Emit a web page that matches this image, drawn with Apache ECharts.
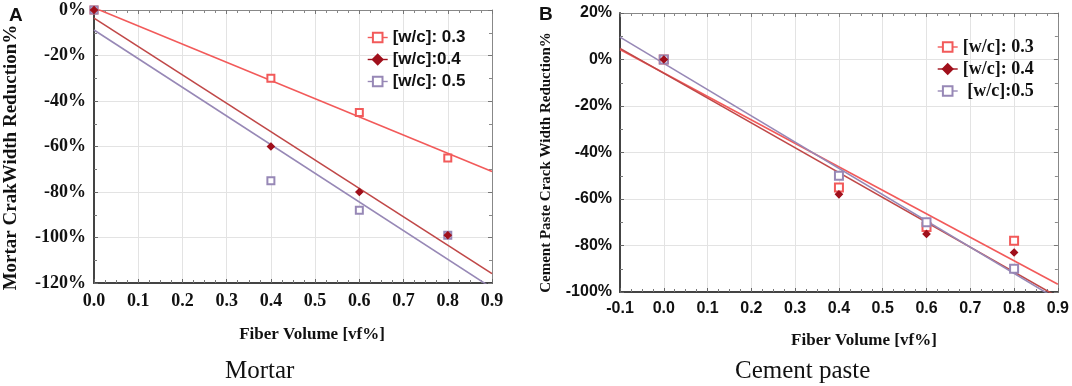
<!DOCTYPE html>
<html>
<head>
<meta charset="utf-8">
<script src="https://cdn.jsdelivr.net/npm/echarts@6/dist/echarts.min.js"></script>
<style>
  html, body { margin: 0; padding: 0; background: #fff; }
  #chart { width: 1072px; height: 386px; }
</style>
</head>
<body>
<div id="chart"></div>
<script>
// fiber volume (vf%) on x, crack width reduction (%) on y
var fiberMortar = [0, 0.4, 0.6, 0.8];
var mortar03 = [0, -30, -45, -65];
var mortar04 = [0, -60, -80, -99];
var mortar05 = [0, -75, -88, -99];
// trend lines, read at the two ends of the x range
var fitXMortar = [0, 0.9];
var mortarFit03 = [1, -71];
var mortarFit04 = [-3.6, -115.9];
var mortarFit05 = [-8.8, -122.2];

var fiberPaste = [0, 0.4, 0.6, 0.8];
var paste03 = [0, -55, -72, -78];
var paste04 = [0, -58, -75, -83];
var paste05 = [0, -50, -70, -90];
var fitXPaste = [-0.1, 0.9];
var pasteFit03 = [4.3, -96.7];
var pasteFit04 = [4.8, -102.1];
var pasteFit05 = [9.6, -103.3];

// axis ranges / tick steps
var xTicksMortar = [0, 0.9, 0.1];
var yTicksMortar = [-120, 0, 20];
var xTicksPaste = [-0.1, 0.9, 0.1];
var yTicksPaste = [-100, 20, 20];

var namesMortar = ['[w/c]: 0.3', '[w/c]:0.4', '[w/c]: 0.5'];
var namesPaste = ['[w/c]: 0.3 ', '[w/c]: 0.4', ' [w/c]:0.5'];

var colors = {
	light: '#f25a5a',
	dark: '#a0101c',
	darkLine: '#c04848',
	purple: '#9788b6'
};

function pairs(xs, ys){
	return xs.map(function(x, i){ return [x, ys[i]]; });
}

var serif = '"Liberation Serif", "Times New Roman", serif';
var sans = '"Liberation Sans", Arial, sans-serif';

function mainX(idx, ticks, font, name, gap, shift){
	return {
		type: 'value', gridIndex: idx, position: 'bottom',
		min: ticks[0], max: ticks[1], interval: ticks[2],
		name: name, nameLocation: 'middle', nameGap: gap,
		nameTextStyle: { fontFamily: serif, fontWeight: 'bold', fontSize: 17, color: '#111', padding: [0, 0, 0, shift] },
		axisLine: { onZero: false, lineStyle: { color: '#444', width: 2 } },
		axisTick: { inside: true, length: 4, lineStyle: { color: '#666' } },
		minorTick: { show: true, splitNumber: 4, length: 3, lineStyle: { color: '#777' } },
		axisLabel: {
			fontFamily: font, fontWeight: 'bold', fontSize: font == serif ? 18 : 16, color: '#111', margin: 9,
			formatter: function(v){ return v.toFixed(1); }
		},
		splitLine: { show: true, lineStyle: { color: '#e3e3e3' } }
	};
}
function mirrorX(idx, ticks){
	return {
		type: 'value', gridIndex: idx, position: 'top',
		min: ticks[0], max: ticks[1], interval: ticks[2],
		axisLine: { onZero: false, lineStyle: { color: '#888', width: 1 } },
		axisTick: { inside: true, length: 4, lineStyle: { color: '#777' } },
		minorTick: { show: true, splitNumber: 4, length: 3, lineStyle: { color: '#888' } },
		axisLabel: { show: false },
		splitLine: { show: false }
	};
}
function mainY(idx, ticks, font, size, name, nameSize, gap, shift){
	return {
		type: 'value', gridIndex: idx, position: 'left',
		min: ticks[0], max: ticks[1], interval: ticks[2],
		name: name, nameLocation: 'middle', nameGap: gap, nameRotate: 90,
		nameTextStyle: { fontFamily: serif, fontWeight: 'bold', fontSize: nameSize, color: '#111', padding: [0, shift, 0, 0] },
		axisLine: { onZero: false, lineStyle: { color: '#444', width: 2 } },
		axisTick: { inside: true, length: 4, lineStyle: { color: '#666' } },
		minorTick: { show: true, splitNumber: 2, length: 3, lineStyle: { color: '#777' } },
		axisLabel: {
			fontFamily: font, fontWeight: 'bold', fontSize: size, color: '#111', margin: 8,
			formatter: function(v){ return v + '%'; }
		},
		splitLine: { show: true, lineStyle: { color: '#e3e3e3' } }
	};
}
function mirrorY(idx, ticks){
	return {
		type: 'value', gridIndex: idx, position: 'right',
		min: ticks[0], max: ticks[1], interval: ticks[2],
		axisLine: { onZero: false, lineStyle: { color: '#888', width: 1 } },
		axisTick: { inside: true, length: 4, lineStyle: { color: '#777' } },
		minorTick: { show: true, splitNumber: 2, length: 3, lineStyle: { color: '#888' } },
		axisLabel: { show: false },
		splitLine: { show: false }
	};
}

// points drawn as line series with a hidden line so the legend shows line + marker
function points(name, axis, data, color, symbol, size, z){
	return {
		name: name, type: 'line', xAxisIndex: axis, yAxisIndex: axis,
		data: data, symbol: symbol, symbolSize: size, showSymbol: true,
		lineStyle: { opacity: 0, color: color },
		itemStyle: { color: color, borderColor: color, borderWidth: 1.2 },
		z: z, animation: false
	};
}
function fit(axis, data, color){
	return {
		type: 'line', xAxisIndex: axis, yAxisIndex: axis,
		data: data, showSymbol: false, symbol: 'none', clip: true,
		lineStyle: { color: color, width: 1.6 },
		silent: true, z: 3, animation: false
	};
}

var chart = echarts.init(document.getElementById('chart'));
var option = {
	animation: false,
	title: [
		{ text: 'A', left: 4, top: 1, textStyle: { fontFamily: sans, fontWeight: 'bold', fontSize: 19, color: '#111' } },
		{ text: 'B', left: 534, top: 0, textStyle: { fontFamily: sans, fontWeight: 'bold', fontSize: 19, color: '#111' } },
		{ text: 'Mortar', left: 220, top: 354, textStyle: { fontFamily: serif, fontWeight: 'normal', fontSize: 25, color: '#111' } },
		{ text: 'Cement paste', left: 730, top: 354, textStyle: { fontFamily: serif, fontWeight: 'normal', fontSize: 25, color: '#111' } }
	],
	grid: [
		{ left: 94, top: 10, width: 398, height: 273 },
		{ left: 620, top: 13, width: 438, height: 279 }
	],
	legend: [
		{
			data: namesMortar, orient: 'vertical', left: 362, top: 24, itemGap: 5,
			itemWidth: 20, itemHeight: 12,
			lineStyle: { opacity: 1, width: 1.4 },
			textStyle: { fontFamily: sans, fontWeight: 'bold', fontSize: 17, color: '#111' }
		},
		{
			data: namesPaste, orient: 'vertical', left: 932, top: 33, itemGap: 4,
			itemWidth: 20, itemHeight: 12,
			lineStyle: { opacity: 1, width: 1.4 },
			textStyle: { fontFamily: serif, fontWeight: 'bold', fontSize: 18, color: '#111' }
		}
	],
	xAxis: [
		mainX(0, xTicksMortar, serif, 'Fiber Volume [vf%]', 43, 38),
		mirrorX(0, xTicksMortar),
		mainX(1, xTicksPaste, sans, 'Fiber Volume [vf%]', 40, 50),
		mirrorX(1, xTicksPaste)
	],
	yAxis: [
		mainY(0, yTicksMortar, serif, 18, 'Mortar CrakWidth Reduction%', 19, 73, 22),
		mirrorY(0, yTicksMortar),
		mainY(1, yTicksPaste, sans, 16, 'Cement Paste Crack Width Reduction%', 15, 66, 20),
		mirrorY(1, yTicksPaste)
	],
	series: [
		fit(0, pairs(fitXMortar, mortarFit03), colors.light),
		fit(0, pairs(fitXMortar, mortarFit04), colors.darkLine),
		fit(0, pairs(fitXMortar, mortarFit05), colors.purple),
		points(namesMortar[0], 0, pairs(fiberMortar, mortar03), colors.light, 'emptyRect', 7, 5),
		points(namesMortar[1], 0, pairs(fiberMortar, mortar04), colors.dark, 'diamond', 7, 7),
		points(namesMortar[2], 0, pairs(fiberMortar, mortar05), colors.purple, 'emptyRect', 7, 6),

		fit(2, pairs(fitXPaste, pasteFit03), colors.light),
		fit(2, pairs(fitXPaste, pasteFit04), colors.darkLine),
		fit(2, pairs(fitXPaste, pasteFit05), colors.purple),
		points(namesPaste[0], 2, pairs(fiberPaste, paste03), colors.light, 'emptyRect', 8, 5),
		points(namesPaste[1], 2, pairs(fiberPaste, paste04), colors.dark, 'diamond', 7, 7),
		points(namesPaste[2], 2, pairs(fiberPaste, paste05), colors.purple, 'emptyRect', 8, 6)
	]
};
chart.setOption(option);
window.addEventListener('resize', function(){ chart.resize(); });
</script>
</body>
</html>
